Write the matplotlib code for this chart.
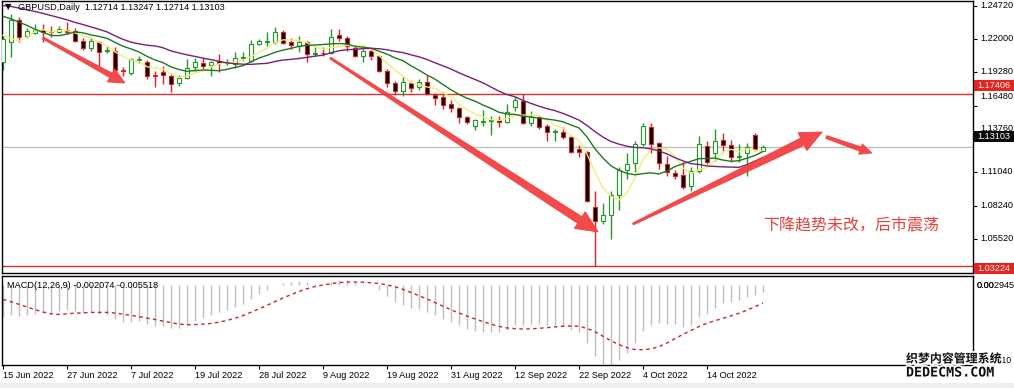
import matplotlib
matplotlib.use("Agg")
import matplotlib.pyplot as plt
import matplotlib.patheffects as pe
from matplotlib.patches import Polygon, Rectangle
from matplotlib.transforms import IdentityTransform, blended_transform_factory, offset_copy
import numpy as np
import pandas as pd

plt.rcParams['font.family'] = ['Liberation Sans', 'DejaVu Sans']

# ------------------------------------------------------------------ data
opens = [1.2010, 1.2175, 1.2357, 1.2225, 1.2250, 1.2275, 1.2265, 1.2258, 1.2274, 1.2266,
         1.2184, 1.2126, 1.2175, 1.2098, 1.2101, 1.1945, 1.1920, 1.2020, 1.2010, 1.1900,
         1.1928, 1.1895, 1.1838, 1.1879, 1.1970, 1.2002, 1.1986, 1.2019, 1.2000, 1.1994,
         1.2040, 1.2019, 1.2159, 1.2170, 1.2175, 1.2258, 1.2175, 1.2142, 1.2175, 1.2075,
         1.2085, 1.2085, 1.2233, 1.2208, 1.2126, 1.2060, 1.2101, 1.2060, 1.1936, 1.1830,
         1.1772, 1.1838, 1.1805, 1.1846, 1.1739, 1.1722, 1.1664, 1.1631, 1.1557, 1.1483,
         1.1516, 1.1525, 1.1533, 1.1516, 1.1640, 1.1689, 1.1508, 1.1557, 1.1483, 1.1430,
         1.1434, 1.1393, 1.1286, 1.1269, 1.0816, 1.0700, 1.0742, 1.0907, 1.1121, 1.1178,
         1.1335, 1.1475, 1.1343, 1.1170, 1.1096, 1.1079, 1.0989, 1.1112, 1.1318, 1.1253,
         1.1368, 1.1327, 1.1228, 1.1253, 1.1409, 1.12714]
highs = [1.2230, 1.2406, 1.2381, 1.2290, 1.2324, 1.2324, 1.2300, 1.2307, 1.2340, 1.2290,
         1.2208, 1.2208, 1.2184, 1.2140, 1.2134, 1.1969, 1.2043, 1.2060, 1.2027, 1.1936,
         1.1978, 1.1912, 1.1904, 1.2035, 1.2040, 1.2044, 1.2019, 1.2077, 1.2030, 1.2093,
         1.2093, 1.2192, 1.2200, 1.2258, 1.2299, 1.2274, 1.2208, 1.2225, 1.2184, 1.2142,
         1.2134, 1.2283, 1.2282, 1.2225, 1.2142, 1.2118, 1.2118, 1.2068, 1.1953, 1.1854,
         1.1887, 1.1854, 1.1871, 1.1904, 1.1755, 1.1763, 1.1697, 1.1640, 1.1566, 1.1541,
         1.1615, 1.1566, 1.1566, 1.1664, 1.1722, 1.1740, 1.1607, 1.1566, 1.1500, 1.1458,
         1.1475, 1.1401, 1.1327, 1.1275, 1.0948, 1.0849, 1.0940, 1.1145, 1.1253, 1.1360,
         1.1508, 1.1508, 1.1351, 1.1236, 1.1121, 1.1187, 1.1145, 1.1401, 1.1360, 1.1459,
         1.1425, 1.1368, 1.1335, 1.1343, 1.1425, 1.13247]
lows = [1.1940, 1.2052, 1.2175, 1.2208, 1.2240, 1.2175, 1.2217, 1.2250, 1.2241, 1.2175,
        1.2109, 1.2100, 1.1978, 1.2085, 1.1936, 1.1895, 1.1900, 1.1995, 1.1870, 1.1805,
        1.1829, 1.1764, 1.1813, 1.1871, 1.1936, 1.1953, 1.1895, 1.1928, 1.1980, 1.1961,
        1.2019, 1.2011, 1.2150, 1.2135, 1.2159, 1.2159, 1.2118, 1.2093, 1.2011, 1.2060,
        1.2060, 1.2077, 1.2180, 1.2101, 1.2052, 1.2011, 1.2027, 1.1928, 1.1805, 1.1747,
        1.1730, 1.1764, 1.1780, 1.1739, 1.1656, 1.1623, 1.1598, 1.1508, 1.1500, 1.1450,
        1.1483, 1.1409, 1.1475, 1.1508, 1.1605, 1.1500, 1.1483, 1.1458, 1.1360, 1.1360,
        1.1376, 1.1253, 1.1228, 1.0857, 1.03224, 1.0676, 1.0552, 1.0785, 1.1046, 1.1104,
        1.1318, 1.1253, 1.1129, 1.1071, 1.1046, 1.0964, 1.0948, 1.1096, 1.1170, 1.1195,
        1.1277, 1.1187, 1.1187, 1.1071, 1.1277, 1.12714]
closes = [1.2200, 1.2357, 1.2217, 1.2266, 1.2274, 1.2258, 1.2255, 1.2282, 1.2258, 1.2184,
          1.2126, 1.2184, 1.2093, 1.2108, 1.1945, 1.1936, 1.2035, 1.2030, 1.1895, 1.1890,
          1.1903, 1.1829, 1.1879, 1.1961, 1.2010, 1.1978, 1.2010, 1.2002, 1.2005, 1.2044,
          1.2046, 1.2159, 1.2184, 1.2180, 1.2258, 1.2167, 1.2150, 1.2175, 1.2077, 1.2082,
          1.2080, 1.2217, 1.2208, 1.2142, 1.2060, 1.2101, 1.2060, 1.1936, 1.1838, 1.1772,
          1.1846, 1.1797, 1.1846, 1.1747, 1.1714, 1.1656, 1.1631, 1.1557, 1.1516, 1.1533,
          1.1525, 1.1533, 1.1516, 1.1599, 1.1690, 1.1508, 1.1557, 1.1475, 1.1434, 1.1442,
          1.1393, 1.1269, 1.1269, 1.0865, 1.0700, 1.0750, 1.0907, 1.1121, 1.1170, 1.1335,
          1.1483, 1.1335, 1.1178, 1.1104, 1.1071, 1.0980, 1.1112, 1.1335, 1.1187, 1.1360,
          1.1327, 1.1228, 1.1236, 1.1310, 1.1294, 1.13103]
# closes before the first visible bar (only used to warm up the indicators)
prior_closes = [1.3170, 1.3250, 1.3200, 1.3185, 1.3180, 1.3090, 1.3115, 1.3150, 1.3140, 1.3110,
                1.3120, 1.3080, 1.3070, 1.3070, 1.3030, 1.3000, 1.3000, 1.3130, 1.3070, 1.3060,
                1.3000, 1.3000, 1.3060, 1.3035, 1.2830, 1.2730, 1.2575, 1.2545, 1.2485, 1.2575,
                1.2490, 1.2495, 1.2625, 1.2355, 1.2335, 1.2330, 1.2315, 1.2250, 1.2200, 1.2260,
                1.2315, 1.2490, 1.2345, 1.2490, 1.2490, 1.2570, 1.2530, 1.2575, 1.2600, 1.2625,
                1.2625, 1.2600, 1.2490, 1.2570, 1.2490, 1.2530, 1.2590, 1.2530, 1.2490, 1.2310,
                1.2130, 1.2000]

tick_bars = [0, 8, 16, 24, 32, 40, 48, 56, 64, 72, 80, 88]
tick_labels = ['15 Jun 2022', '27 Jun 2022', '7 Jul 2022', '19 Jul 2022', '28 Jul 2022',
               '9 Aug 2022', '19 Aug 2022', '31 Aug 2022', '12 Sep 2022', '22 Sep 2022',
               '4 Oct 2022', '14 Oct 2022']
price_ticks = [1.2472, 1.2200, 1.1928, 1.1648, 1.1376, 1.1104, 1.0824, 1.0552, 1.0280]
resistance = 1.17406
support = 1.03224
last_price = 1.13103
header = 'GBPUSD,Daily  1.12714 1.13247 1.12714 1.13103'
macd_label = 'MACD(12,26,9) -0.002074 -0.005518'
macd_top = 0.002945
note = '下降趋势未改，后市震荡'
# arrows: (start bar, start price, end bar, end price)
arrows = [(5.0, 1.2205, 15.25, 1.1834),
          (40.9, 1.2040, 74.4, 1.0606),
          (78.75, 1.0672, 102.4, 1.1430),
          (102.9, 1.1389, 108.6, 1.1257)]

# ------------------------------------------------------------------ figure
W, H = 1014, 388
fig = plt.figure(figsize=(W / 100, H / 100), dpi=100)
fig.patch.set_facecolor('white')


def px(x0, y0, w, h):
    return [x0 / W, 1 - (y0 + h) / H, w / W, h / H]


ax = fig.add_axes(px(2, 1, 971, 272))
ax2 = fig.add_axes(px(2, 276, 971, 89))
for a in (ax, ax2):
    for s in a.spines.values():
        s.set_linewidth(1.0)
        s.set_color('black')
    a.set_xlim(-0.125, 121.25)

O = np.array(opens); Hh = np.array(highs); L = np.array(lows); C = np.array(closes)
n = len(C)
x = np.arange(n)
up = C >= O
GREEN = '#23982a'
RED = '#d42424'

ax.set_ylim(1.0268, 1.2510)

# horizontal levels
ax.axhline(resistance, color='#d93030', lw=1.0, zorder=1.5)
ax.axhline(support, color='#d93030', lw=1.0, zorder=1.5)
ax.axhline(last_price, color='#bcbcbc', lw=0.9, zorder=1.4)

# candles
ax.vlines(x, L, Hh, colors=np.where(up, GREEN, RED), lw=1.0, zorder=2)
body_bot = np.minimum(O, C)
body_h = np.maximum(np.abs(C - O), 0.00012)
ax.bar(x, body_h, bottom=body_bot, width=0.62,
       color=np.where(up, 'white', 'black'), edgecolor=np.where(up, GREEN, RED),
       linewidth=0.8, zorder=3)

# moving averages
full = pd.Series(prior_closes + closes)
sma5 = full.rolling(5).mean().values[-n:]
sma10 = full.rolling(10).mean().values[-n:]
sma20 = full.rolling(20).mean().values[-n:]
ax.plot(x, sma5, color='#f2ee74', lw=1.0, zorder=4)
ax.plot(x, sma10, color='#1c7a1c', lw=1.0, zorder=4)
ax.plot(x, sma20, color='#7a1f78', lw=1.0, zorder=4)

# price axis
ax.set_xticks([])
ax.set_yticks(price_ticks)
ax.tick_params(axis='y', left=False, right=True, labelleft=False, labelright=False,
               length=3, width=0.8, direction='out')
ytr = blended_transform_factory(ax.transAxes, ax.transData)
label_lift = {1.1648: 9, 1.1376: 10}
for p in price_ticks:
    t = offset_copy(ytr, fig=fig, x=7, y=label_lift.get(p, 0), units='dots')
    ax.text(1, p, f'{p:.5f}', transform=t, ha='left', va='center', fontsize=6.6,
            clip_on=False, zorder=5)

# highlighted price boxes
box_lift = {resistance: 9, last_price: 10, support: -2}
for val, fc in [(resistance, '#e8231e'), (last_price, '#0a0a0a'), (support, '#e8231e')]:
    yd = ax.transData.transform((0, val))[1] + box_lift[val]
    fig.add_artist(Rectangle((974, yd - 5.5), 40, 11, transform=IdentityTransform(),
                             fc=fc, ec='none', zorder=20))
    fig.text(977 / W, yd / H, f'{val:.5f}', color='white', fontsize=6.6, ha='left',
             va='center', zorder=21)

# header
fig.text(5 / W, 1 - 7 / H, '▼', fontsize=6, family='DejaVu Sans', va='center', ha='left')
fig.text(18 / W, 1 - 8 / H, header, fontsize=6.6, va='center', ha='left')

# annotation text
ax.text(95, 1.0655, note, ha='left', va='center', fontsize=11.5, color='#e4433d',
        family=['Noto Sans CJK SC', 'DejaVu Sans'], zorder=6)


# hand-drawn style red arrows
def tapered_arrow(a, p0, p1, w0, w1, head_len, head_w, color):
    t = a.transData
    x0, y0 = t.transform(p0)
    x1, y1 = t.transform(p1)
    d = np.array([x1 - x0, y1 - y0])
    u = d / np.hypot(*d)
    nv = np.array([-u[1], u[0]])
    tip = np.array([x1, y1])
    tail = np.array([x0, y0])
    base = tip - u * head_len
    pts = [tail + nv * w0 / 2, base + nv * w1 / 2, base + nv * head_w / 2, tip,
           base - nv * head_w / 2, base - nv * w1 / 2, tail - nv * w0 / 2]
    fig.add_artist(Polygon(pts, closed=True, transform=IdentityTransform(), fc=color,
                           ec=color, lw=0.6, alpha=0.92, zorder=8))


styles = [(2, 5, 16, 15), (2, 8, 22, 20), (2, 8, 22, 20), (3, 4.5, 12, 11)]
for (b0, q0, b1, q1), (w0, w1, hl, hw) in zip(arrows, styles):
    tapered_arrow(ax, (b0, q0), (b1, q1), w0, w1, hl, hw, '#f23b3b')

# ------------------------------------------------------------------ MACD
ema12 = full.ewm(span=12, adjust=False).mean()
ema26 = full.ewm(span=26, adjust=False).mean()
macd_all = ema12 - ema26
sig_all = macd_all.rolling(9).mean()
macd = macd_all.values[-n:]
sig = sig_all.values[-n:]
macd_bottom = min(macd.min(), sig.min())
ax2.set_ylim(macd_bottom, macd_top)
ax2.vlines(x, 0, macd, colors='#bdbdbd', lw=1.0, zorder=2)
ax2.plot(x, sig, color='#c0282d', lw=1.0, ls=(0, (2.5, 2.5)), zorder=3)
ax2.set_yticks([])
ax2.set_xticks(tick_bars)
ax2.set_xticklabels(tick_labels, fontsize=6.6, ha='left')
ax2.tick_params(axis='x', length=3, width=0.8, pad=1.5)
fig.text(7 / W, 1 - 285 / H, macd_label, fontsize=6.6, va='center', ha='left')
ytr2 = blended_transform_factory(ax2.transAxes, ax2.transData)
t2 = offset_copy(ytr2, fig=fig, x=4, y=0, units='dots')
ax2.text(1, 0, f'{macd_top:.6f}', transform=t2, fontsize=6.6, va='center', ha='left',
         clip_on=False)
ax2.text(1, 0, '0.00', transform=t2, fontsize=6.6, va='center', ha='left', clip_on=False)
t3 = offset_copy(ytr2, fig=fig, x=1012 - 973, y=0, units='dots')
ax2.text(1, macd_bottom, f'{macd_bottom:.6f}', transform=t3, fontsize=6.2, va='bottom',
         ha='right', clip_on=False)

# bottom strip and watermark
fig.add_artist(Rectangle((0, 0), W, 5, transform=IdentityTransform(), fc='#eeeeee',
                         ec='none', zorder=0))
stroke = [pe.withStroke(linewidth=2.5, foreground='white')]
fig.text(906 / W, 1 - 359 / H, '织梦内容管理系统', fontsize=8.6, weight='bold',
         family=['Noto Sans CJK SC', 'DejaVu Sans'], color='#111111', va='center',
         ha='left', path_effects=stroke, zorder=30)
fig.text(906 / W, 1 - 373 / H, 'DEDECMS.COM', fontsize=9.6, weight='bold',
         family='DejaVu Sans Mono', color='#111111', va='center', ha='left',
         path_effects=stroke, zorder=30)

fig.savefig('out.png', dpi=100)
